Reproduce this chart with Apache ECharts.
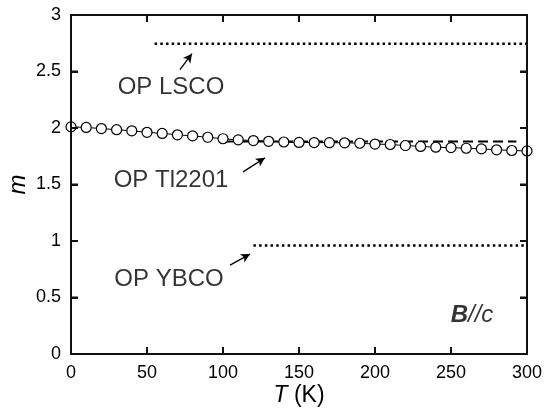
<!DOCTYPE html>
<html>
<head>
<meta charset="utf-8">
<script src="https://cdn.jsdelivr.net/npm/echarts@6/dist/echarts.min.js"></script>
<style>
  html, body { margin: 0; padding: 0; background: #fff; }
  #plot { width: 552px; height: 418px; }
</style>
</head>
<body>
<div id="plot"></div>
<script>
// Temperature grid (K) and measured exponent m for optimally doped Tl2201
const tempK = [0, 10, 20, 30, 40, 50, 60, 70, 80, 90, 100, 110, 120, 130, 140, 150,
               160, 170, 180, 190, 200, 210, 220, 230, 240, 250, 260, 270, 280, 290, 300];
const mTl2201 = [2.01, 2.005, 1.995, 1.985, 1.975, 1.962, 1.952, 1.94, 1.93, 1.918, 1.905,
                 1.895, 1.889, 1.882, 1.876, 1.872, 1.871, 1.87, 1.869, 1.865, 1.858,
                 1.854, 1.845, 1.837, 1.83, 1.826, 1.821, 1.815, 1.807, 1.801, 1.797];

// Reference levels for the other compounds: [T start, T end, m]
const lscoLevel = [55, 300, 2.745];
const tlLevel = [100, 293, 1.88];
const ybcoLevel = [120, 300, 0.96];

// Axis ranges and tick positions
const xRange = [0, 300], xStep = 50;
const yRange = [0, 3], yStep = 0.5;
const xTickVals = [0, 50, 100, 150, 200, 250, 300];
const yTickVals = [0, 0.5, 1, 1.5, 2, 2.5, 3];

// Compound labels, their anchor (T, m) and the arrows pointing to each level
const noteNames = ['OP LSCO', 'OP Tl2201', 'OP YBCO'];
const notePos = [[65.8, 2.356], [65.8, 1.54], [64.5, 0.662]];
const arrowFrom = [[71.7, 2.516], [113.2, 1.612], [104.6, 0.786]];
const arrowTo = [[79.6, 2.658], [127.6, 1.736], [117.8, 0.884]];
const fieldNotePos = [263.8, 0.34];

const FONT = 'Arial, "Liberation Sans", Helvetica, sans-serif';
const INK = '#111';
const TICK_LEN = 7;

function frameLine() {
  return { show: true, onZero: false, lineStyle: { color: INK, width: 2 } };
}
function frameTick() {
  return { show: true, inside: true, length: TICK_LEN, lineStyle: { color: INK, width: 2 } };
}
function tickLabel() {
  return { color: '#000', fontSize: 18, fontFamily: FONT, margin: 10 };
}

function levelSeries(name, lvl, dash, width) {
  return {
    name: name,
    type: 'line',
    data: [[lvl[0], lvl[2]], [lvl[1], lvl[2]]],
    symbol: 'none',
    lineStyle: { color: '#000', width: width, type: dash },
    z: 2
  };
}

// Box frame with inward ticks on all four sides, placed through the axis scales
function renderFrame(params, api) {
  const lo = api.coord([xRange[0], yRange[0]]);
  const hi = api.coord([xRange[1], yRange[1]]);
  const stroke = { stroke: INK, lineWidth: 2, fill: 'none' };
  const children = [{
    type: 'polyline',
    shape: { points: [[lo[0], lo[1]], [hi[0], lo[1]], [hi[0], hi[1]], [lo[0], hi[1]], [lo[0], lo[1]]] },
    style: stroke
  }];
  xTickVals.forEach(function (v) {
    const px = api.coord([v, yRange[0]])[0];
    children.push({ type: 'line', shape: { x1: px, y1: lo[1], x2: px, y2: lo[1] - TICK_LEN }, style: stroke });
    children.push({ type: 'line', shape: { x1: px, y1: hi[1], x2: px, y2: hi[1] + TICK_LEN }, style: stroke });
  });
  yTickVals.forEach(function (v) {
    const py = api.coord([xRange[0], v])[1];
    children.push({ type: 'line', shape: { x1: lo[0], y1: py, x2: lo[0] + TICK_LEN, y2: py }, style: stroke });
    children.push({ type: 'line', shape: { x1: hi[0], y1: py, x2: hi[0] - TICK_LEN, y2: py }, style: stroke });
  });
  return { type: 'group', children: children };
}

const option = {
  animation: false,
  grid: { left: 71, right: 25, top: 15, bottom: 64, outerBoundsMode: 'none', containLabel: false },
  xAxis: [{
    type: 'value', min: xRange[0], max: xRange[1], interval: xStep,
    position: 'bottom',
    axisLine: frameLine(), axisTick: frameTick(), axisLabel: tickLabel(),
    splitLine: { show: false },
    name: '{i|T} (K)', nameLocation: 'middle', nameGap: 30, nameMoveOverlap: false,
    nameTextStyle: {
      color: '#000', fontSize: 23, fontFamily: FONT,
      rich: { i: { fontStyle: 'italic', fontSize: 23, fontFamily: FONT, color: '#000' } }
    }
  }, {
    type: 'value', min: xRange[0], max: xRange[1], interval: xStep,
    position: 'top',
    axisLine: frameLine(), axisTick: frameTick(),
    axisLabel: { show: false }, splitLine: { show: false }
  }],
  yAxis: [{
    type: 'value', min: yRange[0], max: yRange[1], interval: yStep,
    position: 'left',
    axisLine: frameLine(), axisTick: frameTick(), axisLabel: tickLabel(),
    splitLine: { show: false },
    name: 'm', nameLocation: 'middle', nameGap: 41, nameRotate: 90, nameMoveOverlap: false,
    nameTextStyle: { color: '#000', fontSize: 24, fontStyle: 'italic', fontFamily: FONT }
  }, {
    type: 'value', min: yRange[0], max: yRange[1], interval: yStep,
    position: 'right',
    axisLine: frameLine(), axisTick: frameTick(),
    axisLabel: { show: false }, splitLine: { show: false }
  }],
  series: [
    {
      name: 'frame',
      type: 'custom',
      renderItem: renderFrame,
      data: [[xRange[0], yRange[0]]],
      clip: false,
      silent: true,
      z: 5
    },
    levelSeries('LSCO', lscoLevel, [2.5, 3.2], 2.5),
    levelSeries('YBCO', ybcoLevel, [2.5, 3.2], 2.5),
    levelSeries('Tl2201 ref', tlLevel, [10, 5], 2),
    {
      name: 'Tl2201',
      type: 'line',
      data: tempK.map((t, i) => [t, mTl2201[i]]),
      symbol: 'circle',
      symbolSize: 10,
      itemStyle: { color: '#fff', borderColor: '#000', borderWidth: 1.2 },
      lineStyle: { color: '#000', width: 1 },
      z: 3,
      markLine: {
        silent: true,
        symbol: ['none', 'arrow'],
        symbolSize: [7, 9],
        lineStyle: { color: '#000', width: 1.3, type: 'solid' },
        label: { show: false },
        data: arrowFrom.map((p, i) => [{ coord: p }, { coord: arrowTo[i] }])
      }
    },
    {
      name: 'notes',
      type: 'scatter',
      symbolSize: 0,
      data: noteNames.map((n, i) => ({ value: notePos[i], name: n })),
      label: {
        show: true, position: 'inside', formatter: '{b}',
        color: '#000', fontSize: 24, fontFamily: FONT
      },
      z: 4
    },
    {
      name: 'field',
      type: 'scatter',
      symbolSize: 0,
      data: [{ value: fieldNotePos, name: 'B//c' }],
      label: {
        show: true, position: 'inside',
        formatter: '{b|B}{i|//c}',
        rich: {
          b: { fontWeight: 'bold', fontStyle: 'italic', fontSize: 24, fontFamily: FONT, color: '#000' },
          i: { fontStyle: 'italic', fontSize: 24, fontFamily: FONT, color: '#000' }
        }
      },
      z: 4
    }
  ]
};

const plot = echarts.init(document.getElementById('plot'));
plot.setOption(option);
</script>
</body>
</html>
